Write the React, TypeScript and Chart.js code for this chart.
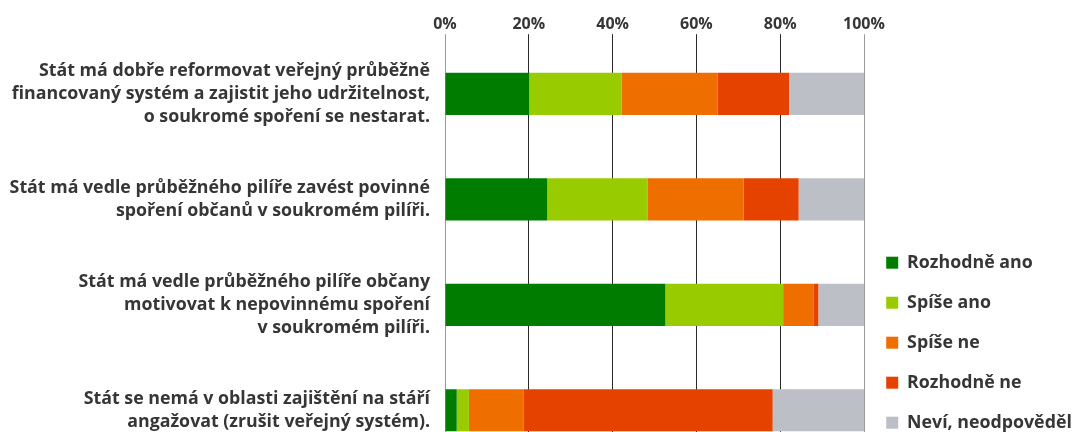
import React, { useEffect, useRef } from "react";
import { Chart, registerables } from "chart.js";

Chart.register(...registerables);

const categories: string[][] = [
  ["Stát má dobře reformovat veřejný průběžně", "financovaný systém a zajistit jeho udržitelnost,", "o soukromé spoření se nestarat."],
  ["Stát má vedle průběžného pilíře zavést povinné", "spoření občanů v soukromém pilíři."],
  ["Stát má vedle průběžného pilíře občany", "motivovat k nepovinnému spoření", "v soukromém pilíři."],
  ["Stát se nemá v oblasti zajištění na stáří", "angažovat (zrušit veřejný systém)."],
];

const seriesNames = ["Rozhodně ano", "Spíše ano", "Spíše ne", "Rozhodně ne", "Neví, neodpověděl"];
const rozhodneAno = [20.1, 24.4, 52.6, 2.8];
const spiseAno = [22.0, 23.9, 28.1, 2.9];
const spiseNe = [23.0, 23.0, 7.2, 13.0];
const rozhodneNe = [17.0, 13.1, 1.2, 59.5];
const nevi = [17.9, 15.6, 10.9, 21.8];
const seriesColors = ["#007D00", "#99CC00", "#EE6E00", "#E54200", "#BCBFC6"];

const xTicks = [0, 20, 40, 60, 80, 100];

const FONT = "'Open Sans', 'DejaVu Sans', sans-serif";
const TEXT = "#363636";
const LABEL_SIZE = 17.8;

export default function App() {
  const ref = useRef<HTMLCanvasElement | null>(null);

  useEffect(() => {
    let chart: Chart | null = null;
    let cancelled = false;
    const make = () => {
      if (cancelled || !ref.current) return;
      const values = [rozhodneAno, spiseAno, spiseNe, rozhodneNe, nevi];
      chart = new Chart(ref.current, {
        type: "bar",
        data: {
          labels: categories as any,
          datasets: seriesNames.map((name, i) => ({
            label: name,
            data: values[i],
            backgroundColor: seriesColors[i],
            borderWidth: 0,
            categoryPercentage: 0.8,
            barPercentage: 0.5,
          })),
        },
        options: {
          indexAxis: "y",
          animation: false,
          responsive: false,
          layout: { padding: { top: 15, left: 0, right: 0, bottom: 0 } },
          plugins: {
            tooltip: { enabled: false },
            legend: {
              position: "right",
              align: "start",
              maxWidth: 213,
              title: {
                display: true,
                text: "",
                font: { size: 1, lineHeight: 1 },
                padding: { top: 215.6, bottom: 0 },
              },
              labels: {
                boxWidth: 12,
                boxHeight: 12,
                padding: 40 - LABEL_SIZE,
                color: TEXT,
                font: { family: FONT, size: LABEL_SIZE, weight: "bold" },
              },
            },
          },
          scales: {
            x: {
              position: "top",
              stacked: true,
              min: 0,
              max: 100,
              z: 1,
              afterBuildTicks: (scale: any) => {
                scale.ticks = xTicks.map((v) => ({ value: v }));
              },
              ticks: {
                padding: 0,
                color: TEXT,
                font: { family: FONT, size: 16, weight: "bold" },
                callback: (v: any) => v + "%",
              },
              grid: {
                drawTicks: true,
                tickLength: 7,
                lineWidth: 1,
                color: (ctx: any) =>
                  ctx.tick && (ctx.tick.value === 0 || ctx.tick.value === 100) ? "#9a9a9a" : "#2a2a2a",
              },
              border: { display: false },
            },
            y: {
              stacked: true,
              afterFit: (scale: any) => {
                scale.width = 445;
                scale.paddingTop = 0;
                scale.paddingBottom = 0;
              },
              ticks: {
                padding: 15,
                color: TEXT,
                font: { family: FONT, size: LABEL_SIZE, weight: "bold", lineHeight: 23 / LABEL_SIZE },
              },
              grid: { display: false, drawTicks: false },
              border: { display: false },
            },
          },
        },
      });
    };
    const fonts: any = (document as any).fonts;
    if (fonts && fonts.load) {
      fonts.load("bold 16px 'Open Sans'").then(make, make);
    } else {
      make();
    }
    return () => {
      cancelled = true;
      if (chart) chart.destroy();
    };
  }, []);

  return (
    <div
      style={{
        position: "fixed",
        left: 0,
        top: 0,
        width: 1077,
        height: 432,
        overflow: "hidden",
        background: "#ffffff",
      }}
    >
      <canvas ref={ref} width={1077} height={463} style={{ display: "block" }} />
    </div>
  );
}
